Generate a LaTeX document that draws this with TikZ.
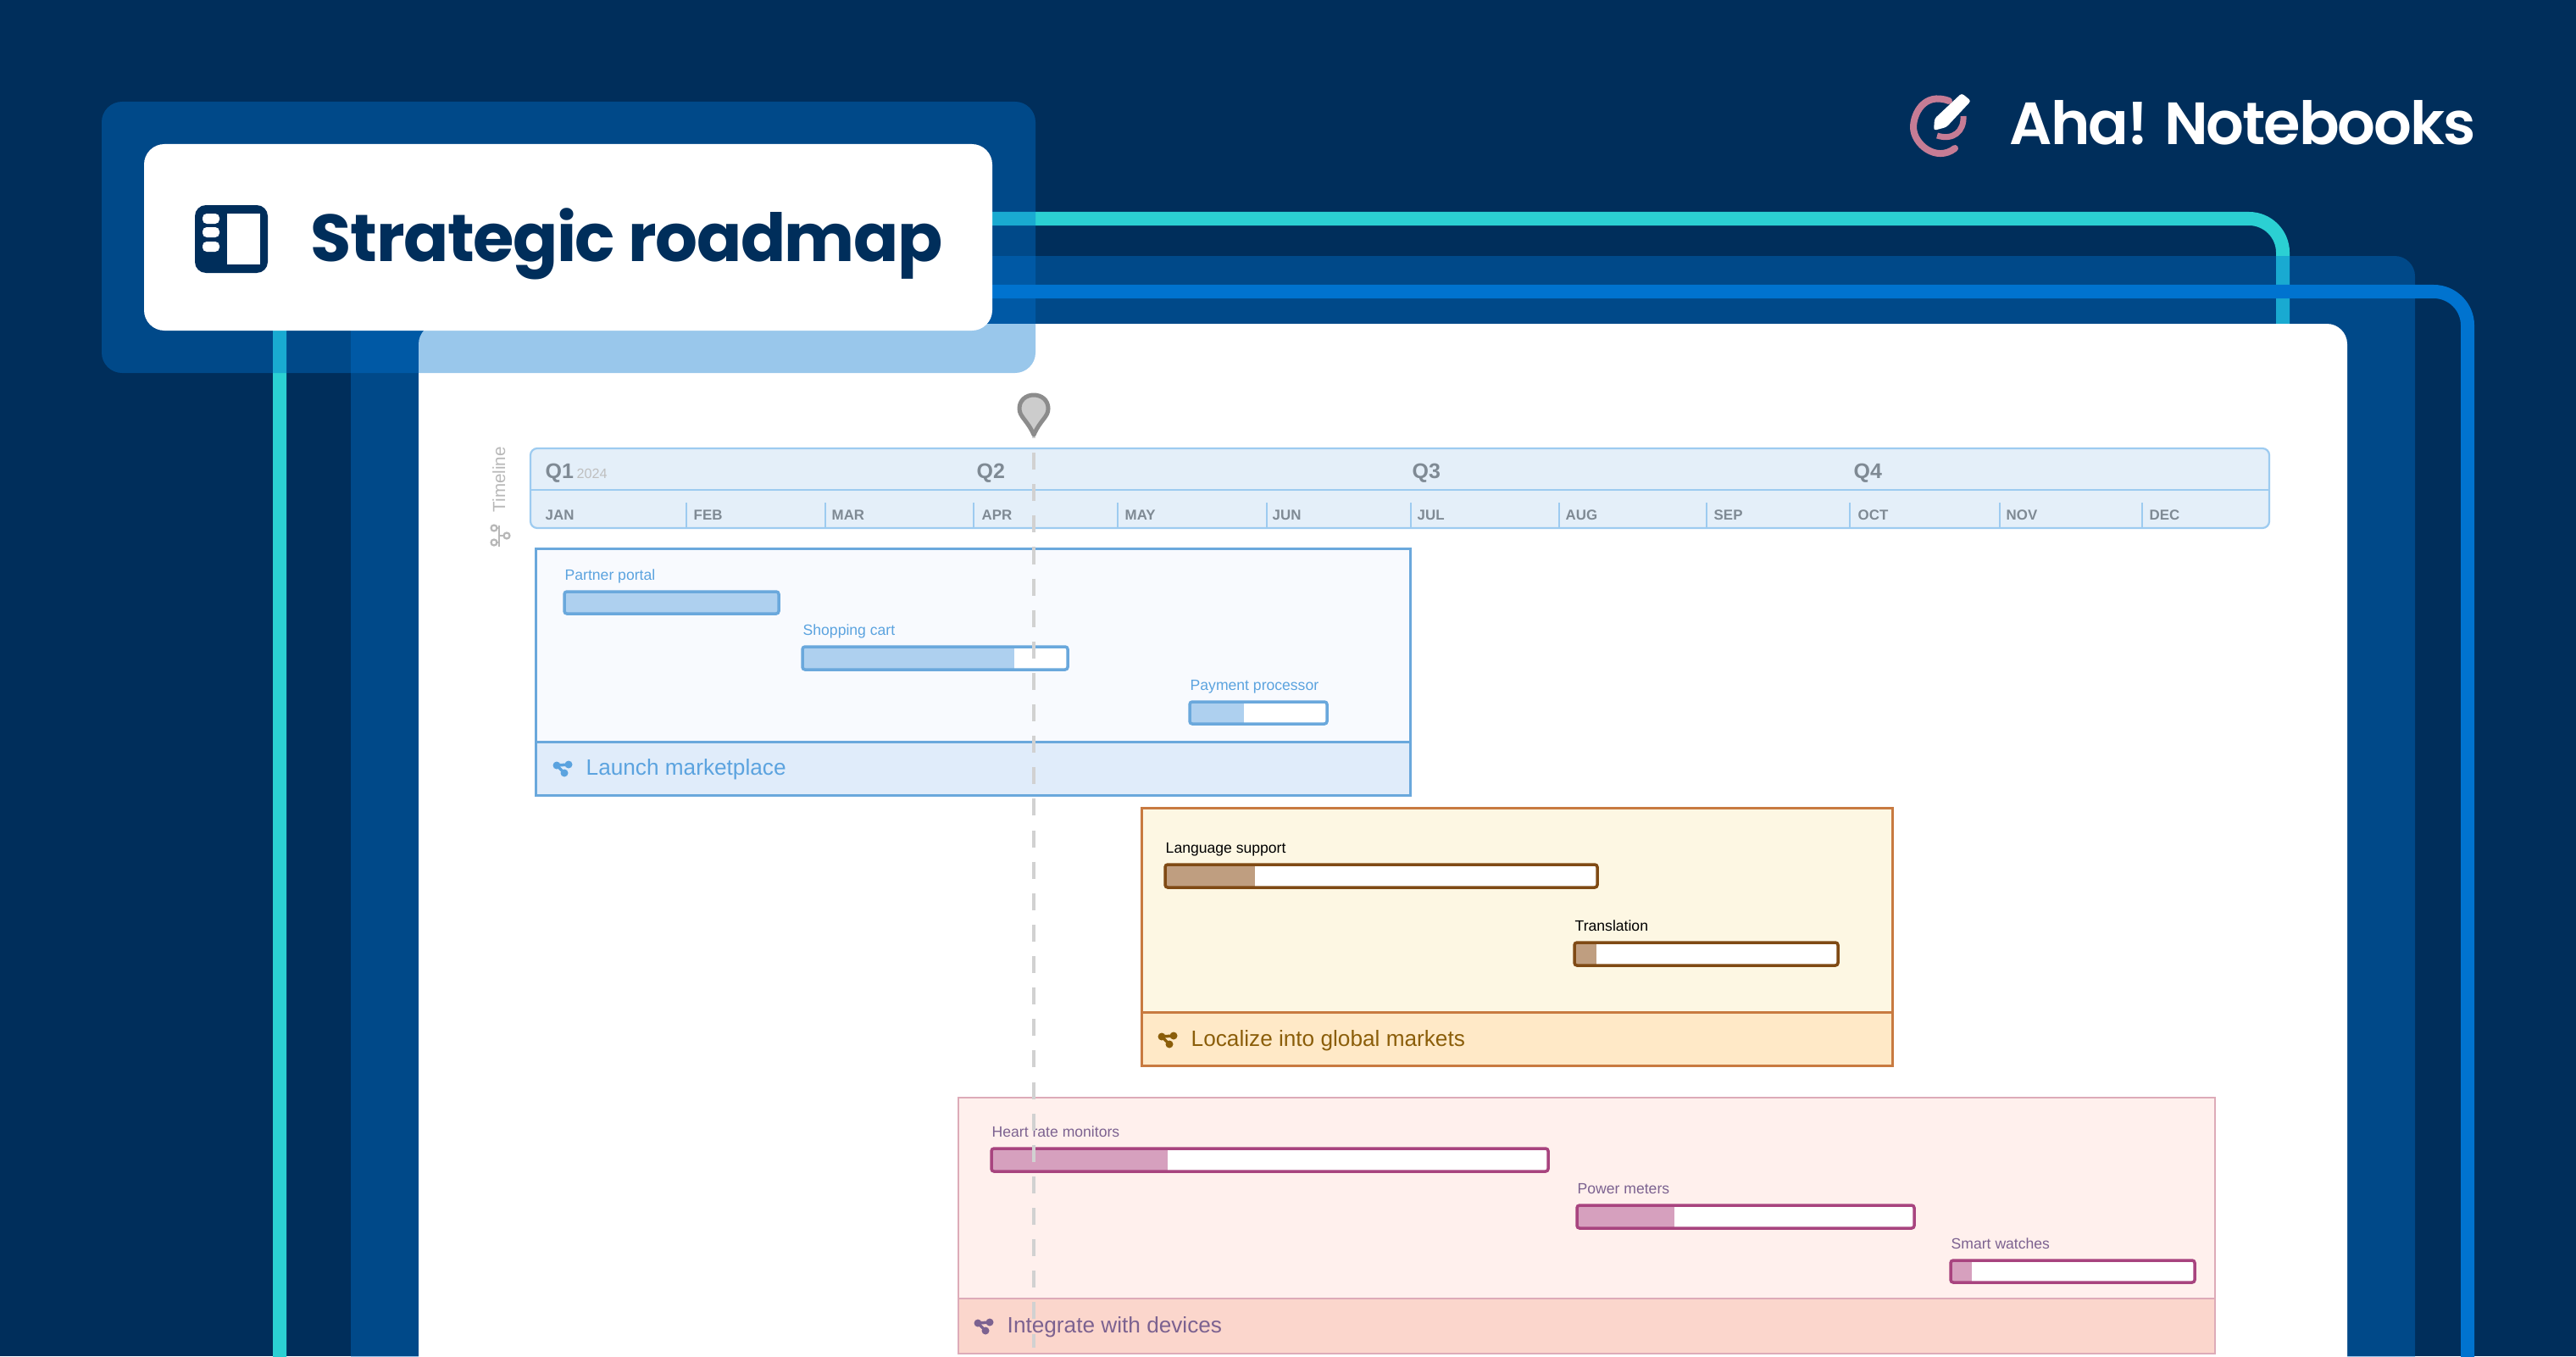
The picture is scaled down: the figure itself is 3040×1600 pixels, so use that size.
\documentclass[tikz,border=0pt]{standalone}
\usepackage{fontspec}
\setmainfont{Liberation Sans}
\newfontfamily\titlefont{Poppins}[LetterSpace=-1.8]
\newfontfamily\brandfont{Poppins SemiBold}[LetterSpace=-3.0]
\definecolor{navy}{HTML}{002E5B}
\definecolor{tealline}{HTML}{2BD0D3}
\definecolor{blueline}{HTML}{0073CF}
\definecolor{pinkring}{HTML}{C67C95}
\definecolor{tlfill}{HTML}{E4EFF9}
\definecolor{tlline}{HTML}{9DCBF0}
\definecolor{tltext}{HTML}{7F8A94}
\definecolor{bluestroke}{HTML}{6AA8DC}
\definecolor{bluebody}{HTML}{F8FAFE}
\definecolor{bluefoot}{HTML}{E0ECFA}
\definecolor{bluetext}{HTML}{5BA3DF}
\definecolor{blueprog}{HTML}{AED0EF}
\definecolor{orangestroke}{HTML}{C87A40}
\definecolor{orangebody}{HTML}{FDF7E3}
\definecolor{orangefoot}{HTML}{FFE9C7}
\definecolor{orangetext}{HTML}{8B5E0A}
\definecolor{orangebar}{HTML}{7F4A14}
\definecolor{orangeprog}{HTML}{BF9E80}
\definecolor{pinkstroke}{HTML}{DDABB8}
\definecolor{pinkbody}{HTML}{FFF0ED}
\definecolor{pinkfoot}{HTML}{FBD6CC}
\definecolor{pinktext}{HTML}{7C6290}
\definecolor{pinkbar}{HTML}{A8447F}
\definecolor{pinkprog}{HTML}{D6A0BE}
\tikzset{
    px/.style={x=0.01cm,y=-0.01cm},
    pane/.style={fill=blueline,fill opacity=0.4,rounded corners=0.24cm},
    wire/.style={line width=0.16cm,rounded corners=0.4cm},
    frame/.style={line width=0.03cm},
    barbox/.style={line width=0.035cm,rounded corners=0.03cm},
    month/.style={anchor=base west,text=tltext,font=\bfseries\fontsize{4.8}{5}\selectfont},
    quarter/.style={anchor=base west,text=tltext,font=\bfseries\fontsize{7.1}{8}\selectfont},
    barlabel/.style={anchor=base west,inner sep=0pt,font=\fontsize{5}{6}\selectfont},
    grouplabel/.style={anchor=base west,inner sep=0pt,font=\fontsize{7.45}{9}\selectfont},
    pics/grpicon/.style={code={
        \draw[line width=0.035cm,#1] (14,-1) -- (0,0) -- (9,9);
        \fill[#1] (0,0) circle (0.045cm) (14,-1) circle (0.045cm) (9,9) circle (0.045cm);
    }}
}
\begin{document}
\begin{tikzpicture}[px]
    \useasboundingbox (0,0) rectangle (3040,1600);
    \clip (0,0) rectangle (3040,1600);
    \fill[navy] (0,0) rectangle (3040,1600);
    \draw[wire,tealline] (330,1660) -- (330,258) -- (2694,258) -- (2694,420);
    \draw[wire,blueline] (1100,344) -- (2912,344) -- (2912,1660);
    \fill[pane] (414,302) rectangle (2850,1700);
    \fill[white,rounded corners=0.24cm] (494,382) rectangle (2770,1700);
    \fill[pane] (120,120) rectangle (1222,440);
    \fill[white,rounded corners=0.24cm] (170,170) rectangle (1171,390);
    % title
    \fill[navy,rounded corners=0.13cm] (230,242) rectangle (316,322);
    \fill[white] (268,252) rectangle (307,312);
    \fill[white,rounded corners=0.05cm]
        (239,252) rectangle (259,264)
        (239,268) rectangle (259,280)
        (239,285) rectangle (259,297);
    \node (title) [anchor=base west,inner sep=0pt,text=navy,font=\titlefont\bfseries\fontsize{22.3}{26}\selectfont] at (366,308) {Strategic roadmap};
    % logo
    \draw[pinkring,line width=0.08cm,line cap=round] (2300,119) .. controls (2270,108) and (2258,135) .. (2258,150) .. controls (2258,170) and (2285,192) .. (2307,175);
    \draw[pinkring,line width=0.07cm] (2286,160) .. controls (2305,166) and (2318,155) .. (2317,137);
    \fill[white,rounded corners=0.03cm] (2315,110) -- (2326,119) -- (2297,150) -- (2282,154) -- (2283,140) -- cycle;
    \node (brand) [anchor=base west,inner sep=0pt,text=white,font=\brandfont\fontsize{20}{24}\selectfont] at (2371,170) {Aha! Notebooks};
    % timeline
    \draw[tlline,fill=tlfill,line width=0.022cm,rounded corners=0.08cm] (626,529) rectangle (2678,623);
    \draw[tlline,line width=0.02cm] (626,578) -- (2678,578);
    \draw[tlline,line width=0.016cm]
        (810,593) -- (810,623) (974,593) -- (974,623) (1149,593) -- (1149,623)
        (1319,593) -- (1319,623) (1495,593) -- (1495,623) (1665,593) -- (1665,623)
        (1840,593) -- (1840,623) (2014,593) -- (2014,623) (2183,593) -- (2183,623)
        (2360,593) -- (2360,623) (2528,593) -- (2528,623);
    \begin{scope}[every node/.style={quarter,inner sep=0pt}]
        \node (q1) at (643,564) {Q1};
        \node (q2) at (1152,564) {Q2};
        \node (q3) at (1666,564) {Q3};
        \node (q4) at (2187,564) {Q4};
    \end{scope}
    \node (year) [anchor=base west,inner sep=0pt,text=black!25,font=\fontsize{4.6}{5}\selectfont] at (680,564) {2024};
    \begin{scope}[every node/.style={month,inner sep=0pt}]
        \node (jan) at (643,613) {JAN};
        \node (feb) at (818,613) {FEB};
        \node (mar) at (981,613) {MAR};
        \node (apr) at (1158,613) {APR};
        \node (may) at (1327,613) {MAY};
        \node (jun) at (1501,613) {JUN};
        \node (jul) at (1672,613) {JUL};
        \node (aug) at (1847,613) {AUG};
        \node (sep) at (2022,613) {SEP};
        \node (oct) at (2192,613) {OCT};
        \node (nov) at (2367,613) {NOV};
        \node (dec) at (2536,613) {DEC};
    \end{scope}
    \node (tl) [rotate=90,anchor=base west,inner sep=0pt,text=black!28,font=\fontsize{5.85}{7}\selectfont] at (596,605) {Timeline};
    \draw[black!28,line width=0.025cm] (589,620) -- (589,645) (586,623) -- (589,623) (589,632) -- (595,632) (586,640) -- (589,640);
    \draw[black!28,line width=0.022cm] (583,623) circle (0.035cm) (598,632) circle (0.035cm) (583,640) circle (0.035cm);
    % launch marketplace
    \draw[bluestroke,fill=bluebody,frame] (632,647) rectangle (1664,875);
    \draw[bluestroke,fill=bluefoot,frame] (632,875) rectangle (1664,938);
    \node (launch) [grouplabel,text=bluetext] at (691,914) {Launch marketplace};
    \pic at (657,903) {grpicon=bluetext};
    \node (portal) [barlabel,text=bluetext] at (666,684) {Partner portal};
    \node (cart) [barlabel,text=bluetext] at (947,749) {Shopping cart};
    \node (payment) [barlabel,text=bluetext] at (1404,814) {Payment processor};
    \draw[bluestroke,fill=blueprog,barbox] (666,698) rectangle (919,724);
    \fill[white] (947,763) rectangle (1260,790);
    \fill[blueprog] (947,763) rectangle (1197,790);
    \draw[bluestroke,barbox] (947,763) rectangle (1260,790);
    \fill[white] (1404,828) rectangle (1566,854);
    \fill[blueprog] (1404,828) rectangle (1468,854);
    \draw[bluestroke,barbox] (1404,828) rectangle (1566,854);
    % localize
    \draw[orangestroke,fill=orangebody,frame] (1347,953) rectangle (2233,1194);
    \draw[orangestroke,fill=orangefoot,frame] (1347,1194) rectangle (2233,1257);
    \node (localize) [grouplabel,text=orangetext] at (1405,1234) {Localize into global markets};
    \pic at (1371,1223) {grpicon=orangetext};
    \node (language) [barlabel,text=black] at (1375,1006) {Language support};
    \node (translation) [barlabel,text=black] at (1858,1098) {Translation};
    \fill[white] (1375,1020) rectangle (1885,1047);
    \fill[orangeprog] (1375,1020) rectangle (1481,1047);
    \draw[orangebar,barbox] (1375,1020) rectangle (1885,1047);
    \fill[white] (1858,1112) rectangle (2169,1139);
    \fill[orangeprog] (1858,1112) rectangle (1884,1139);
    \draw[orangebar,barbox] (1858,1112) rectangle (2169,1139);
    % integrate
    \draw[pinkstroke,fill=pinkbody,line width=0.022cm] (1131,1295) rectangle (2614,1532);
    \draw[pinkstroke,fill=pinkfoot,line width=0.022cm] (1131,1532) rectangle (2614,1597);
    \node (integrate) [grouplabel,text=pinktext] at (1188,1572) {Integrate with devices};
    \pic at (1154,1561) {grpicon=pinktext};
    \node (heart) [barlabel,text=pinktext] at (1170,1341) {Heart rate monitors};
    \node (power) [barlabel,text=pinktext] at (1861,1408) {Power meters};
    \node (smart) [barlabel,text=pinktext] at (2302,1473) {Smart watches};
    \fill[white] (1170,1355) rectangle (1827,1382);
    \fill[pinkprog] (1170,1355) rectangle (1378,1382);
    \draw[pinkbar,barbox] (1170,1355) rectangle (1827,1382);
    \fill[white] (1861,1422) rectangle (2259,1449);
    \fill[pinkprog] (1861,1422) rectangle (1976,1449);
    \draw[pinkbar,barbox] (1861,1422) rectangle (2259,1449);
    \fill[white] (2302,1487) rectangle (2590,1513);
    \fill[pinkprog] (2302,1487) rectangle (2327,1513);
    \draw[pinkbar,barbox] (2302,1487) rectangle (2590,1513);
    % today
    \draw[black!18,line width=0.035cm,dash pattern=on 0.2cm off 0.171cm] (1220,497) -- (1220,1590);
    \draw[black!45,fill=black!20,line width=0.05cm,line join=round] (1220,513) .. controls (1212,495) and (1203,492) .. (1203,482) .. controls (1203,472) and (1211,466) .. (1220,466) .. controls (1229,466) and (1237,472) .. (1237,482) .. controls (1237,492) and (1228,495) .. (1220,513) -- cycle;
\end{tikzpicture}
\end{document}
